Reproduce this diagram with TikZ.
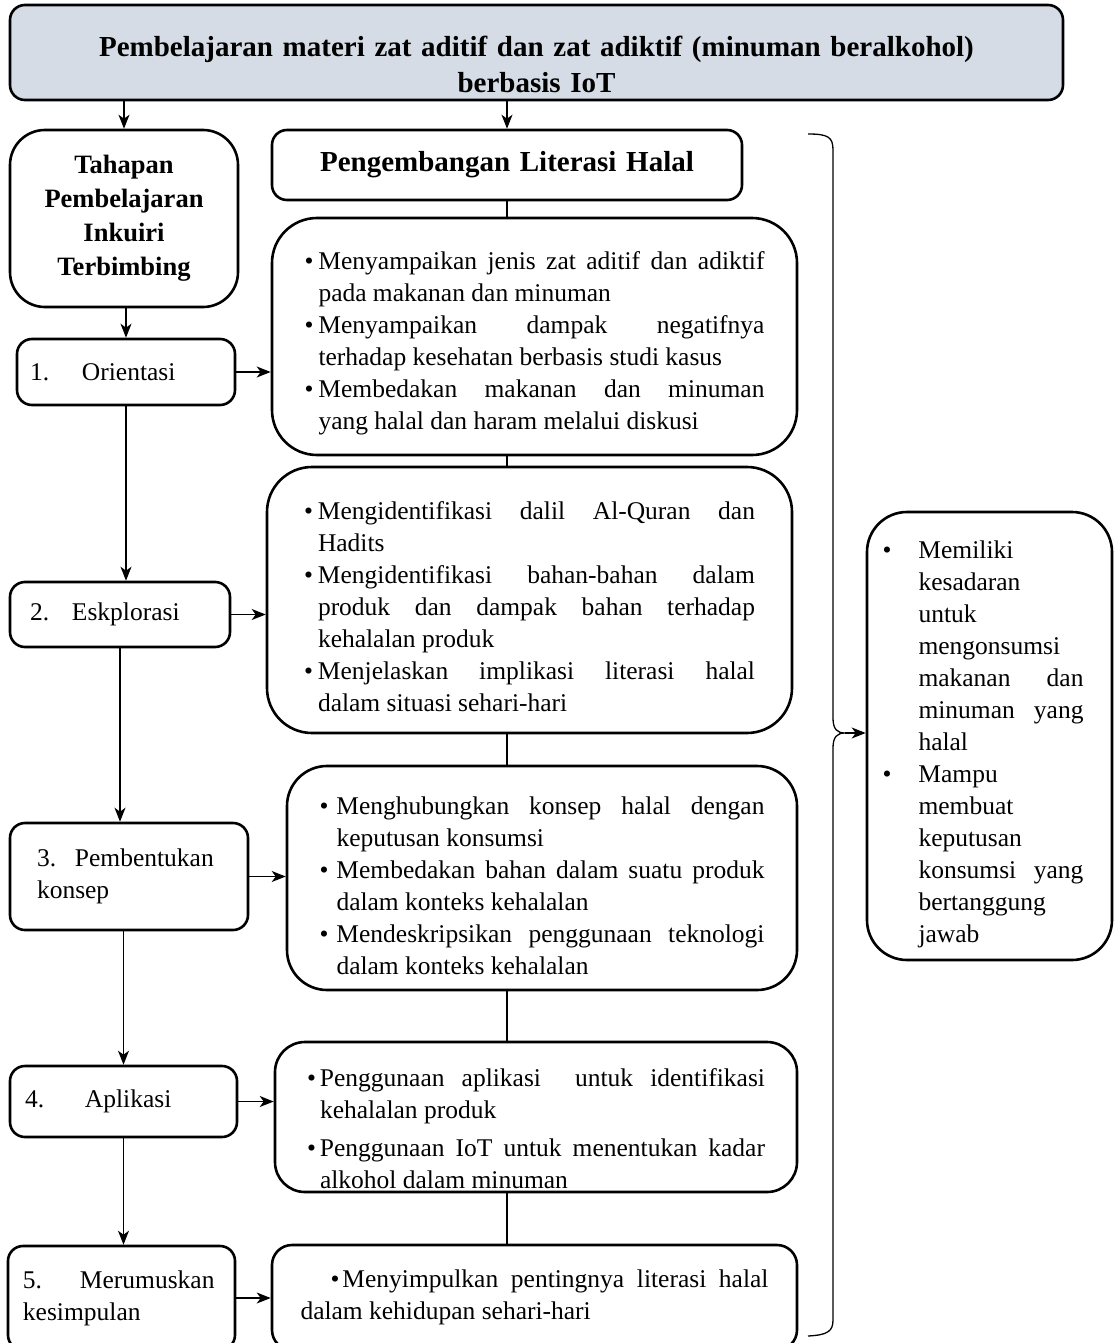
\documentclass[tikz,border=0pt]{standalone}
\usepackage{fontspec}
\setmainfont{Liberation Serif}
\usepackage{xcolor}
\usetikzlibrary{arrows.meta}
\usetikzlibrary{calc}

\definecolor{judulabu}{HTML}{D6DCE5}

\hyphenpenalty=10000
\exhyphenpenalty=10000
\tolerance=10000

\newcommand{\butir}[2][14pt]{\par\noindent\hangindent=#1\hangafter=1\makebox[#1][l]{\textbullet}#2\par}
\newcommand{\langkah}[3]{\noindent\hangindent=#2\hangafter=1\makebox[#2][l]{#1}#3}

\tikzset{
  kotak/.style={draw, line width=2.6pt, rounded corners=#1, inner sep=0pt},
  kotak/.default=15pt,
  isi/.style={font=\fontsize{25.5}{32}\selectfont, align=justify},
  tebal/.style={font=\fontsize{29}{36}\selectfont\bfseries, align=center},
  panah/.style={line width=1.3pt, -{Stealth[length=14pt,width=11pt,inset=4pt]}},
  garis/.style={line width=1.3pt}
}

\begin{document}
\begin{tikzpicture}[x=1pt, y=-1pt]
    \useasboundingbox (0,0) rectangle (1114,1343);

    % judul
    \node[kotak, tebal, fill=judulabu, minimum width=1053pt, minimum height=95pt, text width=1000pt] (judul) at (536.5,52.5)
        {\rule{0pt}{45pt}Pembelajaran materi zat aditif dan zat adiktif (minuman beralkohol)\\ berbasis IoT};

    % kolom kiri
    \node[kotak=35pt, align=center, font=\fontsize{26.5}{34}\selectfont\bfseries, minimum width=228pt, minimum height=177pt, text width=200pt] (tahap) at (124,218.5)
        {Tahapan\\ Pembelajaran\\ Inkuiri\\ Terbimbing};
    \node[kotak, isi, align=left, minimum width=218pt, minimum height=66pt, text width=192pt] (s1) at (126,372) {\langkah{1.}{52pt}{Orientasi}};
    \node[kotak, isi, align=left, minimum width=220pt, minimum height=65pt, text width=180pt] (s2) at (120,614.5) {\langkah{2.}{42pt}{Eskplorasi}};
    \node[kotak, isi, align=left, minimum width=238pt, minimum height=107pt, text width=184pt] (s3) at (129,876.5) {\langkah{3.}{38pt}{Pembentukan\newline konsep}};
    \node[kotak, isi, align=left, minimum width=227pt, minimum height=71pt, text width=197pt] (s4) at (123.5,1101.5) {\langkah{4.}{60pt}{Aplikasi}};
    \node[kotak, isi, align=left, minimum width=227pt, minimum height=104pt, text width=197pt] (s5) at (121.5,1298) {\langkah{5.}{57pt}{Merumuskan\newline kesimpulan}};

    % kolom tengah
    \node[kotak, tebal, minimum width=470pt, minimum height=70pt, text width=440pt] (kembang) at (507,165) {Pengembangan Literasi Halal};
    \node[kotak=45pt, isi, minimum width=525pt, minimum height=237pt, text width=460pt] (isiA) at (534.5,336.5) {%
        \butir{Menyampaikan jenis zat aditif dan adiktif\linebreak pada makanan dan minuman}%
        \butir{Menyampaikan dampak negatifnya\linebreak terhadap kesehatan berbasis studi kasus}%
        \butir{Membedakan makanan dan minuman\linebreak yang halal dan haram melalui diskusi}};
    \node[kotak=45pt, isi, minimum width=525pt, minimum height=266pt, text width=451pt] (isiB) at (529.5,600) {%
        \vspace*{0pt}%
        \butir{Mengidentifikasi dalil Al-Quran dan\linebreak Hadits}%
        \butir{Mengidentifikasi bahan-bahan dalam\linebreak produk dan dampak bahan terhadap\linebreak kehalalan produk}%
        \butir{Menjelaskan implikasi literasi halal\linebreak dalam situasi sehari-hari}};
    \node[kotak=40pt, isi, minimum width=510pt, minimum height=224pt, text width=445pt] (isiC) at (542,878) {%
        \vspace*{2pt}%
        \butir[17pt]{Menghubungkan konsep halal dengan\linebreak keputusan konsumsi}%
        \butir[17pt]{Membedakan bahan dalam suatu produk\linebreak dalam konteks kehalalan}%
        \butir[17pt]{Mendeskripsikan penggunaan teknologi\linebreak dalam konteks kehalalan}};
    \node[kotak=30pt, isi, minimum width=522pt, minimum height=150pt, text width=458pt] (isiD) at (536,1117) {%
        \vspace*{10pt}%
        \butir[13pt]{Penggunaan aplikasi~ untuk identifikasi\linebreak kehalalan produk}\vspace{6pt}%
        \butir[13pt]{Penggunaan IoT untuk menentukan kadar\linebreak alkohol dalam minuman}};
    \node[kotak=20pt, isi, minimum width=525pt, minimum height=105pt, text width=468pt] (isiE) at (534.5,1297.5) {%
        \noindent\hspace*{30pt}\makebox[12pt][l]{\textbullet}Menyimpulkan pentingnya literasi halal\linebreak dalam kehidupan sehari-hari};

    % kolom kanan
    \node[kotak=40pt, isi, minimum width=245pt, minimum height=448pt, text width=214pt] (hasil) at (989.5,736) {%
        \vspace*{2pt}\rightskip=13pt
        \butir[36pt]{Memiliki\linebreak kesadaran\linebreak untuk\linebreak mengonsumsi\linebreak makanan dan\linebreak minuman yang\linebreak halal}%
        \butir[36pt]{Mampu\linebreak membuat\linebreak keputusan\linebreak konsumsi yang\linebreak bertanggung\linebreak jawab}};

    % panah kiri
    \draw[panah] (judul.south -| tahap.north) -- (tahap.north);
    \draw[panah] (judul.south -| kembang.north) -- (kembang.north);
    \draw[panah] (tahap.south -| s1.north) -- (s1.north);
    \draw[panah] (s1.south) -- (s1.south |- s2.north);
    \draw[panah] (s2.south) -- (s2.south |- s3.north);
    \draw[panah] (s3.south -| s4.north) -- (s4.north);
    \draw[panah] (s4.south) -- (s4.south |- s5.north);

    \draw[panah] (s1.east) -- (s1.east -| isiA.west);
    \draw[panah] (s2.east) -- (s2.east -| isiB.west);
    \draw[panah] (s3.east) -- (s3.east -| isiC.west);
    \draw[panah] (s4.east) -- (s4.east -| isiD.west);
    \draw[panah] (s5.east) -- (s5.east -| isiE.west);

    % garis tengah
    \draw[garis] (kembang.south) -- (kembang.south |- isiA.north);
    \draw[garis] (isiA.south -| kembang.south) -- (isiB.north -| kembang.south);
    \draw[garis] (isiB.south -| kembang.south) -- (isiC.north -| kembang.south);
    \draw[garis] (isiC.south -| kembang.south) -- (isiD.north -| kembang.south);
    \draw[garis] (isiD.south -| kembang.south) -- (isiE.north -| kembang.south);

    % kurung kurawal
    \coordinate (ujung) at (845,733);
    \draw[garis] (808,134) .. controls (828,134) and (833,137) .. (833,150) -- (833,718)
        .. controls (833,729) and (837,733) .. (ujung)
        .. controls (837,733) and (833,737) .. (833,748) -- (833,1320)
        .. controls (833,1331) and (828,1335) .. (808,1336);
    \draw[panah] (ujung) -- (ujung -| hasil.west);
\end{tikzpicture}
\end{document}
